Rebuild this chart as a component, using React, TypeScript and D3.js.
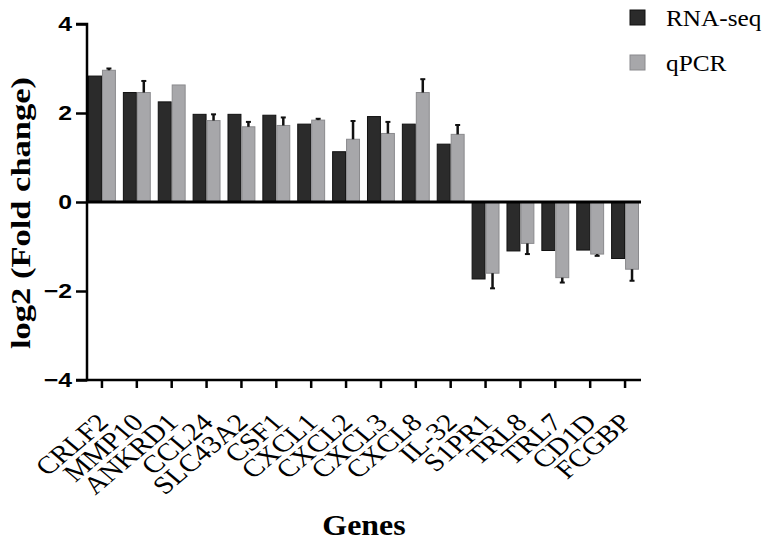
import { useEffect, useRef } from "react";
import * as d3 from "d3";

const genes = ["CRLF2", "MMP10", "ANKRD1", "CCL24", "SLC43A2", "CSF1", "CXCL1", "CXCL2", "CXCL3", "CXCL8", "IL-32", "S1PR1", "TRL8", "TRL7", "CD1D", "FCGBP"];
const rnaSeq = [2.83, 2.46, 2.25, 1.97, 1.97, 1.95, 1.75, 1.13, 1.92, 1.75, 1.3, -1.73, -1.1, -1.09, -1.08, -1.27];
const qpcr = [2.96, 2.46, 2.63, 1.83, 1.69, 1.72, 1.84, 1.41, 1.54, 2.46, 1.52, -1.6, -0.93, -1.7, -1.17, -1.51];
const qpcrErr = [0.04, 0.26, 0, 0.14, 0.11, 0.18, 0.03, 0.41, 0.26, 0.3, 0.21, 0.34, 0.24, 0.11, 0.04, 0.26];
const yTicks = [-4, -2, 0, 2, 4];
const seriesNames = ["RNA-seq", "qPCR"];

const DARK = "#2b2b2b";
const LIGHT = "#a7a7aa";
const SERIF = "'Liberation Serif', 'Times New Roman', serif";

// the source picture is a bit stretched sideways, so text gets a small x scale
const SX = 1.18;

const App = () => {
  const chartRef = useRef<HTMLDivElement>(null);

  useEffect(() => {
    const width = 768;
    const height = 546;
    const axisX = 87;
    const axisEnd = 641;

    d3.select(chartRef.current).selectAll("svg").remove();

    const svg = d3
      .select(chartRef.current)
      .append("svg")
      .attr("width", width)
      .attr("height", height)
      .style("position", "absolute")
      .style("left", "0px")
      .style("top", "0px")
      .style("background", "#fff");

    const x = d3.scaleBand().domain(genes).range([88, 639]).paddingInner(0.2).paddingOuter(0);
    const y = d3.scaleLinear().domain([-4, 4]).range([380, 24]);
    const half = x.bandwidth() / 2;

    // bars
    const series = [
      { vals: rnaSeq, fill: DARK, stroke: "#111", off: 0 },
      { vals: qpcr, fill: LIGHT, stroke: "#8a8a8d", off: half },
    ];
    series.forEach((s) => {
      svg
        .append("g")
        .selectAll("rect")
        .data(s.vals)
        .enter()
        .append("rect")
        .attr("x", (d, i) => (x(genes[i]) as number) + s.off + 0.5)
        .attr("y", (d) => y(Math.max(0, d)))
        .attr("width", half - 1)
        .attr("height", (d) => Math.abs(y(d) - y(0)))
        .attr("fill", s.fill)
        .attr("stroke", s.stroke)
        .attr("stroke-width", 1);
    });

    // error bars (one-sided, away from zero)
    const err = svg.append("g").attr("stroke", "#111");
    qpcr.forEach((v, i) => {
      if (!qpcrErr[i]) return;
      const cx = (x(genes[i]) as number) + half * 1.5;
      const end = v >= 0 ? v + qpcrErr[i] : v - qpcrErr[i];
      err
        .append("line")
        .attr("x1", cx)
        .attr("x2", cx)
        .attr("y1", y(v))
        .attr("y2", y(end))
        .attr("stroke-width", 2.5);
      err
        .append("line")
        .attr("x1", cx - 2.5)
        .attr("x2", cx + 2.5)
        .attr("y1", y(end))
        .attr("y2", y(end))
        .attr("stroke-width", 2);
    });

    // zero line
    svg
      .append("line")
      .attr("x1", axisX)
      .attr("x2", axisEnd)
      .attr("y1", y(0))
      .attr("y2", y(0))
      .attr("stroke", "#000")
      .attr("stroke-width", 3);

    // y axis
    const yAxis = svg
      .append("g")
      .attr("transform", `translate(${axisX},0)`)
      .call(d3.axisLeft(y).tickValues(yTicks).tickSize(11).tickPadding(4).tickFormat(d3.format("d")));
    yAxis.select(".domain").attr("stroke-width", 2.5).attr("d", `M-11,${y(4)}H0V${y(-4)}H-11`);
    yAxis.selectAll(".tick line").attr("stroke-width", 2.5);
    yAxis
      .selectAll(".tick text")
      .attr("font-family", "'Liberation Sans', Arial, sans-serif")
      .attr("font-weight", "bold")
      .attr("font-size", 21)
      .attr("fill", "#000")
      .attr("x", -15 / SX)
      .attr("transform", `scale(${SX},1)`);

    // bottom axis
    const xAxis = svg
      .append("g")
      .attr("transform", `translate(0,${y(-4)})`)
      .call(d3.axisBottom(x).tickSize(8).tickSizeOuter(0));
    xAxis.select(".domain").attr("stroke-width", 2.5).attr("d", `M${axisX},0H${axisEnd}`);
    xAxis.selectAll(".tick line").attr("stroke-width", 2.5);
    xAxis
      .selectAll(".tick text")
      .attr("font-family", SERIF)
      .attr("font-size", 25)
      .attr("fill", "#000")
      .attr("text-anchor", "end")
      .attr("dy", null)
      .attr("y", null)
      .attr("transform", `translate(8,44) scale(${SX},1) rotate(-45)`);

    // axis titles
    svg
      .append("text")
      .attr("transform", `translate(30,${213}) rotate(-90)`)
      .attr("text-anchor", "middle")
      .attr("font-family", SERIF)
      .attr("font-weight", "bold")
      .attr("font-size", 27)
      .attr("textLength", 272)
      .attr("lengthAdjust", "spacingAndGlyphs")
      .text("log2 (Fold change)");

    svg
      .append("text")
      .attr("transform", `translate(${(axisX + axisEnd) / 2},535) scale(1.1,1)`)
      .attr("text-anchor", "middle")
      .attr("font-family", SERIF)
      .attr("font-weight", "bold")
      .attr("font-size", 29)
      .text("Genes");

    // legend
    const legend = svg.append("g").attr("transform", "translate(630,10)");
    seriesNames.forEach((name, i) => {
      const g = legend.append("g").attr("transform", `translate(0,${i * 45})`);
      g.append("rect")
        .attr("width", 15)
        .attr("height", 15)
        .attr("fill", i === 0 ? DARK : LIGHT)
        .attr("stroke", i === 0 ? "#111" : "#8a8a8d");
      g.append("text")
        .attr("transform", `translate(36,16) scale(1.1,1)`)
        .attr("font-family", SERIF)
        .attr("font-size", 23)
        .text(name);
    });
  }, []);

  return <div ref={chartRef}></div>;
};

export default App;
